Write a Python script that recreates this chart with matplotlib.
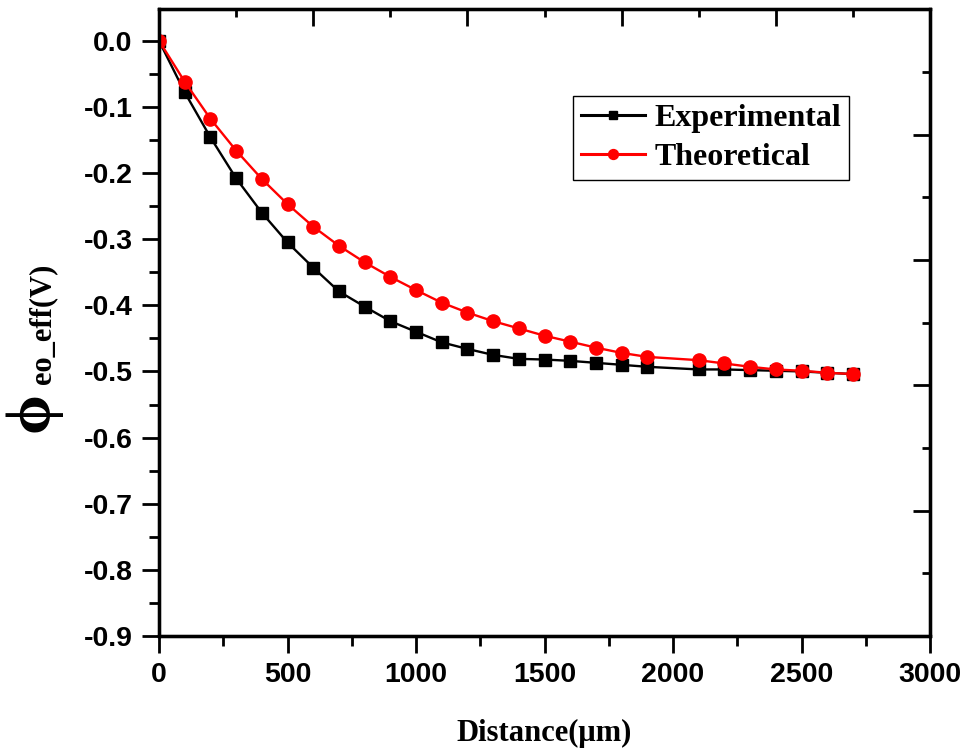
import numpy as np
import matplotlib
matplotlib.use("Agg")
import matplotlib.pyplot as plt
from matplotlib.ticker import MultipleLocator, FixedLocator, NullFormatter

# Distance along the device (um); no sample at 2000 um
distance = [0, 100, 200, 300, 400, 500, 600, 700, 800, 900, 1000,
            1100, 1200, 1300, 1400, 1500, 1600, 1700, 1800, 1900,
            2100, 2200, 2300, 2400, 2500, 2600, 2700]

experimental = [0.0, -0.078, -0.146, -0.208, -0.260, -0.305, -0.343, -0.379,
                -0.402, -0.424, -0.440, -0.456, -0.466, -0.475, -0.481,
                -0.482, -0.484, -0.487, -0.490, -0.493, -0.497, -0.497,
                -0.498, -0.499, -0.500, -0.502, -0.504]

theoretical = [0.0, -0.062, -0.118, -0.166, -0.209, -0.247, -0.281, -0.310,
               -0.335, -0.357, -0.377, -0.396, -0.411, -0.424, -0.435,
               -0.446, -0.455, -0.464, -0.472, -0.478, -0.483, -0.488,
               -0.493, -0.497, -0.499, -0.502, -0.504]

series_names = ["Experimental", "Theoretical"]

W, H = 971, 751
fig = plt.figure(figsize=(W / 100, H / 100), dpi=100)
left, right, bottom, top = 159 / W, 930 / W, 1 - 636 / H, 1 - 9.3 / H
ax = fig.add_axes([left, bottom, right - left, top - bottom])

ax.plot(distance, experimental, color="black", lw=1.7, marker="s",
        markersize=8.5, label=series_names[0], zorder=3)
ax.plot(distance, theoretical, color="#ff0000", lw=1.7, marker="o",
        markersize=9.5, label=series_names[1], zorder=4)

ax.set_xlim(0, 3000)
ax.set_ylim(-0.9, 0.0475)

ax.xaxis.set_major_locator(MultipleLocator(500))
ax.xaxis.set_minor_locator(MultipleLocator(250))
ax.yaxis.set_major_locator(MultipleLocator(0.1))
ax.yaxis.set_minor_locator(MultipleLocator(0.05))
ax.yaxis.set_major_formatter(matplotlib.ticker.FormatStrFormatter("%.1f"))

tick_font = dict(family="Liberation Sans", weight="bold", size=20.5)
ax.tick_params(which="major", direction="out", length=12, width=2,
               top=False, right=False, pad=7)
ax.tick_params(which="minor", direction="out", length=7, width=2,
               top=False, right=False)
for lab in ax.get_xticklabels() + ax.get_yticklabels():
    lab.set_fontproperties(matplotlib.font_manager.FontProperties(**tick_font))

for sp in ax.spines.values():
    sp.set_linewidth(2.3)

# Independent decorative scales on the top and right edges (five divisions)
frac = [0.2, 0.4, 0.6, 0.8]
frac_minor = [0.1, 0.3, 0.5, 0.7, 0.9]
axt = ax.twiny()
axt.set_xlim(0, 1)
axt.xaxis.set_major_locator(FixedLocator(frac))
axt.xaxis.set_minor_locator(FixedLocator(frac_minor))
axt.xaxis.set_major_formatter(NullFormatter())
axt.tick_params(axis="x", which="major", direction="in", length=12, width=2)
axt.tick_params(axis="x", which="minor", direction="in", length=6, width=2)
axr = ax.twinx()
axr.set_ylim(0, 1)
axr.yaxis.set_major_locator(FixedLocator(frac))
axr.yaxis.set_minor_locator(FixedLocator(frac_minor))
axr.yaxis.set_major_formatter(NullFormatter())
axr.tick_params(axis="y", which="major", direction="in", length=12, width=2)
axr.tick_params(axis="y", which="minor", direction="in", length=6, width=2)
for a in (axt, axr):
    for sp in a.spines.values():
        sp.set_linewidth(2.3)

ax.set_xlabel("Distance(\u03bcm)", fontfamily="Liberation Serif",
              fontweight="bold", fontsize=22, labelpad=22)

# Rotated y label: large phi followed by the subscript-style remainder
fig.text(47 / W, 1 - 432 / H, "\u03d5", rotation=90, rotation_mode="anchor",
         ha="left", va="baseline", fontsize=46,
         family=["Liberation Serif", "DejaVu Serif"], fontweight="bold")
fig.text(50 / W, 1 - 384 / H, "eo_eff(V)", rotation=90, rotation_mode="anchor",
         ha="left", va="baseline", fontsize=22,
         family="Liberation Serif", fontweight="bold")

leg = ax.legend(loc="upper left", bbox_to_anchor=((573 - 159) / 771, 1 - (96 - 9.3) / 626.7),
                prop=dict(family="Liberation Serif", weight="bold", size=23),
                frameon=True, fancybox=False, edgecolor="black", framealpha=1,
                handlelength=2.0, handletextpad=0.3, borderpad=0.25,
                labelspacing=0.3, markerscale=0.75, borderaxespad=0)
leg.get_frame().set_linewidth(1.0)
for ln in leg.get_lines():
    ln.set_linewidth(2.2)
leg.set_zorder(10)

fig.savefig("out.png", dpi=100)
